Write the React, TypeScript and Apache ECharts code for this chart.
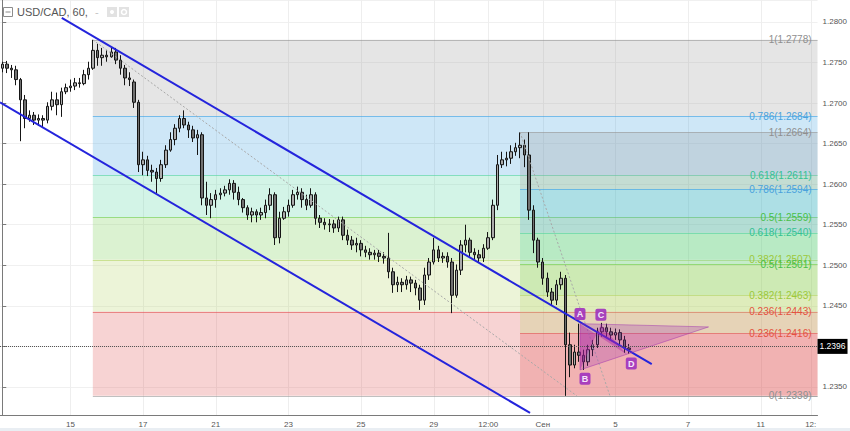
import React, { useEffect, useRef } from 'react';
import * as echarts from 'echarts';

// ---------- axes ----------
const SLOTS = 180; // 3-hour slots across the plot
const Y_MIN = 1.23154;
const Y_MAX = 1.28271;
const tickSlots = [15, 31, 47, 63, 79, 95, 107, 119, 135, 151, 167, 178];
const tickLabels = ['15', '17', '21', '23', '25', '29', '12:00', 'Сен', '5', '7', '11', '12:'];

// ---------- candles: [open, close, low, high] ----------
const ohlc = [
  [1.2743, 1.2748, 1.2738, 1.2751], [1.2748, 1.2743, 1.2737, 1.2752], [1.2743, 1.2741, 1.2731, 1.2747],
  [1.2741, 1.2729, 1.2722, 1.2746], [1.2729, 1.2704, 1.2653, 1.2731], [1.2704, 1.2681, 1.2669, 1.2710],
  [1.2681, 1.2685, 1.2677, 1.2691], [1.2685, 1.2679, 1.2673, 1.2689], [1.2679, 1.2681, 1.2672, 1.2686],
  [1.2681, 1.2679, 1.2670, 1.2685], [1.2679, 1.2696, 1.2675, 1.2701], [1.2696, 1.2704, 1.2691, 1.2714],
  [1.2704, 1.2698, 1.2685, 1.2713], [1.2698, 1.2714, 1.2683, 1.2719], [1.2714, 1.2719, 1.2711, 1.2724],
  [1.2719, 1.2721, 1.2714, 1.2729], [1.2721, 1.2725, 1.2716, 1.2731], [1.2725, 1.2724, 1.2719, 1.2731],
  [1.2724, 1.2735, 1.2722, 1.2741], [1.2735, 1.2743, 1.2729, 1.2751], [1.2743, 1.2765, 1.2741, 1.2778],
  [1.2765, 1.2756, 1.2746, 1.2773], [1.2756, 1.2759, 1.2746, 1.2768], [1.2759, 1.2757, 1.2751, 1.2765],
  [1.2757, 1.2763, 1.2756, 1.2769], [1.2763, 1.2753, 1.2748, 1.2768], [1.2753, 1.2743, 1.2735, 1.2759],
  [1.2743, 1.2731, 1.2722, 1.2747], [1.2731, 1.2729, 1.2721, 1.2738], [1.2726, 1.2701, 1.2694, 1.2729],
  [1.2701, 1.2624, 1.2615, 1.2704], [1.2624, 1.2630, 1.2611, 1.2640], [1.2630, 1.2617, 1.2610, 1.2635],
  [1.2617, 1.2615, 1.2603, 1.2624], [1.2615, 1.2607, 1.2589, 1.2620], [1.2607, 1.2624, 1.2603, 1.2630],
  [1.2624, 1.2642, 1.2620, 1.2648], [1.2642, 1.2655, 1.2640, 1.2664], [1.2655, 1.2669, 1.2648, 1.2674],
  [1.2669, 1.2681, 1.2664, 1.2685], [1.2681, 1.2673, 1.2669, 1.2691], [1.2673, 1.2667, 1.2657, 1.2677],
  [1.2667, 1.2657, 1.2652, 1.2672], [1.2657, 1.2661, 1.2636, 1.2667], [1.2661, 1.2583, 1.2574, 1.2664],
  [1.2583, 1.2574, 1.2562, 1.2603], [1.2574, 1.2581, 1.2558, 1.2589], [1.2581, 1.2587, 1.2571, 1.2593],
  [1.2587, 1.2589, 1.2581, 1.2595], [1.2589, 1.2593, 1.2585, 1.2598], [1.2593, 1.2601, 1.2587, 1.2606],
  [1.2601, 1.2590, 1.2581, 1.2605], [1.2590, 1.2581, 1.2574, 1.2597], [1.2581, 1.2571, 1.2565, 1.2583],
  [1.2571, 1.2562, 1.2556, 1.2574], [1.2562, 1.2566, 1.2553, 1.2571], [1.2566, 1.2562, 1.2553, 1.2569],
  [1.2562, 1.2565, 1.2556, 1.2571], [1.2565, 1.2574, 1.2558, 1.2581], [1.2574, 1.2587, 1.2568, 1.2595],
  [1.2587, 1.2534, 1.2525, 1.2590], [1.2534, 1.2558, 1.2527, 1.2566], [1.2558, 1.2566, 1.2556, 1.2572],
  [1.2566, 1.2574, 1.2560, 1.2581], [1.2574, 1.2587, 1.2571, 1.2593], [1.2587, 1.2590, 1.2581, 1.2597],
  [1.2590, 1.2581, 1.2571, 1.2595], [1.2581, 1.2574, 1.2568, 1.2587], [1.2574, 1.2587, 1.2571, 1.2595],
  [1.2587, 1.2558, 1.2550, 1.2590], [1.2558, 1.2553, 1.2546, 1.2562], [1.2553, 1.2550, 1.2544, 1.2558],
  [1.2550, 1.2551, 1.2541, 1.2557], [1.2551, 1.2546, 1.2540, 1.2556], [1.2546, 1.2556, 1.2541, 1.2560],
  [1.2556, 1.2537, 1.2531, 1.2560], [1.2537, 1.2531, 1.2525, 1.2544], [1.2531, 1.2525, 1.2519, 1.2536],
  [1.2525, 1.2527, 1.2516, 1.2534], [1.2527, 1.2519, 1.2511, 1.2531], [1.2519, 1.2516, 1.2510, 1.2524],
  [1.2516, 1.2513, 1.2507, 1.2521], [1.2513, 1.2515, 1.2507, 1.2519], [1.2515, 1.2511, 1.2504, 1.2519],
  [1.2511, 1.2509, 1.2502, 1.2516], [1.2509, 1.2492, 1.2484, 1.2540], [1.2492, 1.2476, 1.2466, 1.2497],
  [1.2476, 1.2479, 1.2467, 1.2486], [1.2479, 1.2476, 1.2467, 1.2484], [1.2476, 1.2482, 1.2470, 1.2487],
  [1.2482, 1.2478, 1.2467, 1.2486], [1.2478, 1.2472, 1.2463, 1.2482], [1.2472, 1.2457, 1.2445, 1.2476],
  [1.2457, 1.2488, 1.2451, 1.2497], [1.2488, 1.2504, 1.2482, 1.2509], [1.2504, 1.2519, 1.2501, 1.2534],
  [1.2519, 1.2509, 1.2504, 1.2524], [1.2509, 1.2511, 1.2503, 1.2516], [1.2511, 1.2504, 1.2497, 1.2516],
  [1.2504, 1.2463, 1.2441, 1.2509], [1.2463, 1.2494, 1.2460, 1.2501], [1.2494, 1.2525, 1.2488, 1.2531],
  [1.2525, 1.2531, 1.2516, 1.2550], [1.2531, 1.2516, 1.2509, 1.2534], [1.2516, 1.2513, 1.2507, 1.2521],
  [1.2513, 1.2509, 1.2503, 1.2519], [1.2509, 1.2521, 1.2504, 1.2526], [1.2521, 1.2534, 1.2519, 1.2541],
  [1.2534, 1.2574, 1.2531, 1.2581], [1.2574, 1.2624, 1.2568, 1.2636], [1.2624, 1.2630, 1.2620, 1.2640],
  [1.2630, 1.2632, 1.2622, 1.2640], [1.2632, 1.2640, 1.2625, 1.2648], [1.2640, 1.2645, 1.2635, 1.2651],
  [1.2645, 1.2648, 1.2632, 1.2664], [1.2648, 1.2636, 1.2621, 1.2655], [1.2636, 1.2568, 1.2556, 1.2664],
  [1.2568, 1.2531, 1.2515, 1.2574], [1.2531, 1.2504, 1.2497, 1.2534], [1.2504, 1.2484, 1.2476, 1.2509],
  [1.2484, 1.2467, 1.2461, 1.2491], [1.2467, 1.2457, 1.2450, 1.2472], [1.2457, 1.2476, 1.2451, 1.2482],
  [1.2476, 1.2484, 1.2470, 1.2492], [1.2484, 1.2402, 1.2339, 1.2488], [1.2402, 1.2377, 1.2362, 1.2417],
  [1.2377, 1.2393, 1.2373, 1.2402], [1.2393, 1.2389, 1.2381, 1.2428], [1.2389, 1.2381, 1.2371, 1.2396],
  [1.2381, 1.2396, 1.2376, 1.2402], [1.2396, 1.2402, 1.2388, 1.2408], [1.2402, 1.2418, 1.2398, 1.2423],
  [1.2418, 1.2423, 1.2412, 1.2429], [1.2423, 1.2418, 1.2411, 1.2428], [1.2418, 1.2414, 1.2408, 1.2423],
  [1.2414, 1.2417, 1.2408, 1.2422], [1.2417, 1.2408, 1.2402, 1.2421], [1.2408, 1.2398, 1.2392, 1.2413],
  [1.2398, 1.2396, 1.2391, 1.2403],
];
const lastPrice = 1.2396;

// ---------- drawings (slot index, price) ----------
const fibRatios = ['1', '0.786', '0.618', '0.5', '0.382', '0.236', '0'];
const fib1Prices = [1.2778, 1.2684, 1.2611, 1.2559, 1.2507, 1.2443, 1.2339];
const fib2Prices = [1.2664, 1.2594, 1.254, 1.2501, 1.2463, 1.2416, 1.2339];
const fib1Start = 19.94;
const fib2Start = 114.0;
const fib1Trend = [[19.94, 1.2778], [126.5, 1.2339]];
const fib2Trend = [[114.0, 1.2664], [133.8, 1.2339]];
const channelUpper = [[13.1, 1.2805], [143.0, 1.2378]];
const channelLower = [[-0.5, 1.2701], [116.2, 1.2318]];
const triA = [127.2, 1.2428];
const triB = [127.2, 1.2371];
const triC = [131.8, 1.2427];
const triD = [137.5, 1.239];
const triApex = [155.5, 1.2424];
const pointNames = ['A', 'B', 'C', 'D'];
const pointTags = [[127.2, 1.244], [128.3, 1.236], [131.8, 1.2439], [138.5, 1.2379]];

const LEVEL_RGB = [
  [150, 150, 150], [60, 160, 225], [80, 210, 160], [110, 205, 70], [180, 212, 100], [225, 80, 80], [150, 150, 150],
];
const LEVEL_TEXT = ['#8f8f8f', '#4aa2dc', '#33c193', '#48bf48', '#9cc83a', '#e4523f', '#8f8f8f'];
const FONT = "'Liberation Sans', Arial, sans-serif";
const rgba = (c: number[], a: number) => `rgba(${c[0]},${c[1]},${c[2]},${a})`;

const categories = Array.from({ length: SLOTS }, (_, i) => 's' + i);
const labelAt = new Map<number, string>(tickSlots.map((s, i) => [s, tickLabels[i]]));

function bgRender(_params: any, api: any) {
  const children: any[] = [];
  const top = api.coord([0, Y_MAX])[1];
  const bottom = api.coord([0, Y_MIN])[1];
  tickSlots.forEach((s) => {
    const x = Math.round(api.coord([s, Y_MIN])[0]) + 0.5;
    children.push({ type: 'line', shape: { x1: x, y1: top, x2: x, y2: bottom }, style: { stroke: '#eeeeee', lineWidth: 1 } });
  });
  const fibs: [number, number[]][] = [[fib1Start, fib1Prices], [fib2Start, fib2Prices]];
  fibs.forEach(([start, prices]) => {
    const xl = api.coord([start, prices[0]])[0];
    const xr = api.coord([SLOTS - 0.5, prices[0]])[0];
    for (let k = 0; k < prices.length - 1; k++) {
      const y1 = api.coord([start, prices[k]])[1];
      const y2 = api.coord([start, prices[k + 1]])[1];
      children.push({ type: 'rect', shape: { x: xl, y: y1, width: xr - xl, height: y2 - y1 }, style: { fill: rgba(LEVEL_RGB[k], 0.25) } });
    }
    for (let k = 0; k < prices.length; k++) {
      const y = Math.round(api.coord([start, prices[k]])[1]) + 0.5;
      children.push({ type: 'line', shape: { x1: xl, y1: y, x2: xr, y2: y }, style: { stroke: rgba(LEVEL_RGB[k], 0.6), lineWidth: 1 } });
    }
  });
  return { type: 'group', children };
}

function fgRender(_params: any, api: any) {
  const children: any[] = [];
  const c = (p: number[]) => api.coord(p);
  [fib1Trend, fib2Trend].forEach((t) => {
    const a = c(t[0]); const b = c(t[1]);
    children.push({ type: 'line', shape: { x1: a[0], y1: a[1], x2: b[0], y2: b[1] }, style: { stroke: '#a8a8a8', lineWidth: 1, lineDash: [2, 2] } });
  });
  [channelUpper, channelLower].forEach((t) => {
    const a = c(t[0]); const b = c(t[1]);
    children.push({ type: 'line', shape: { x1: a[0], y1: a[1], x2: b[0], y2: b[1] }, style: { stroke: '#2424dc', lineWidth: 2 } });
  });
  const A = c(triA), B = c(triB), C = c(triC), D = c(triD), P = c(triApex);
  children.push({ type: 'polygon', shape: { points: [A, P, B] }, style: { fill: 'rgba(156,39,176,0.25)', stroke: 'rgba(156,39,176,0.45)', lineWidth: 1 } });
  children.push({ type: 'polygon', shape: { points: [A, B, C, D] }, style: { fill: 'rgba(170,30,165,0.4)' } });
  pointTags.forEach((p, i) => {
    const q = c(p);
    children.push({ type: 'rect', shape: { x: q[0] - 5.5, y: q[1] - 6, width: 11, height: 12, r: 2 }, style: { fill: 'rgba(160,50,190,0.9)' } });
    children.push({ type: 'text', style: { text: pointNames[i], x: q[0], y: q[1] + 0.5, fill: '#f6e8fa', font: `bold 9px ${FONT}`, textAlign: 'center', textVerticalAlign: 'middle', align: 'center', verticalAlign: 'middle' } });
  });
  const labelSets: [number[], boolean][] = [[fib1Prices, true], [fib2Prices, false]];
  labelSets.forEach(([prices, withZero]) => {
    const xr = c([SLOTS - 0.5, prices[0]])[0] - 6;
    prices.forEach((pr, k) => {
      if (!withZero && k === prices.length - 1) return;
      const y = c([0, pr])[1];
      children.push({ type: 'text', style: { text: `${fibRatios[k]}(${pr.toFixed(4)})`, x: xr, y: y, fill: LEVEL_TEXT[k], font: `10px ${FONT}`, textAlign: 'right', textVerticalAlign: 'middle', align: 'right', verticalAlign: 'middle' } });
    });
  });
  return { type: 'group', children };
}

export default function App() {
  const ref = useRef<HTMLDivElement>(null);
  useEffect(() => {
    document.body.style.margin = '0';
    const chart = echarts.init(ref.current!, null, { renderer: 'svg' });
    chart.setOption({
      animation: false,
      backgroundColor: '#ffffff',
      textStyle: { fontFamily: FONT },
      grid: { left: 0, right: 31, top: 0, bottom: 16 },
      xAxis: [
        {
          type: 'category', data: categories, boundaryGap: true,
          axisLine: { show: true, lineStyle: { color: '#7a7a7a' } },
          axisTick: { show: false },
          axisLabel: {
            interval: (i: number) => labelAt.has(i),
            formatter: (_v: string, i: number) => labelAt.get(i) ?? '',
            fontSize: 8, color: '#555', margin: 5, fontFamily: FONT,
          },
          splitLine: { show: false },
        },
        { type: 'value', min: -0.5, max: SLOTS - 0.5, show: false },
      ],
      yAxis: [{
        type: 'value', position: 'right', min: Y_MIN, max: Y_MAX,
        minInterval: 0.005, maxInterval: 0.005, splitNumber: 10,
        axisLine: { show: true, lineStyle: { color: '#7a7a7a' } },
        axisTick: { show: true, length: 4, lineStyle: { color: '#7a7a7a' } },
        axisLabel: {
          showMinLabel: false, showMaxLabel: false, fontSize: 8, color: '#555', margin: 5, fontFamily: FONT,
          formatter: (v: number) => (Math.abs(v - 1.24) < 1e-6 ? '' : v.toFixed(4)),
        },
        splitLine: { show: true, lineStyle: { color: '#f0f0f0' } },
      }],
      graphic: [
        { type: 'rect', shape: { x: 3.5, y: 7.5, width: 9, height: 9 }, style: { fill: 'none', stroke: '#8c8c8c', lineWidth: 1 } },
        { type: 'line', shape: { x1: 5.5, y1: 12, x2: 10.5, y2: 12 }, style: { stroke: '#8c8c8c', lineWidth: 1 } },
        { type: 'text', x: 17, y: 12, style: { text: 'USD/CAD, 60,', fill: '#555', font: `11px ${FONT}`, textVerticalAlign: 'middle', verticalAlign: 'middle' } },
        { type: 'text', x: 95, y: 12, style: { text: '-', fill: '#c4c4c4', font: `11px ${FONT}`, textVerticalAlign: 'middle', verticalAlign: 'middle' } },
        { type: 'rect', shape: { x: 107, y: 7, width: 10, height: 10 }, style: { fill: '#e2e2e2' } },
        { type: 'rect', shape: { x: 119, y: 7, width: 10, height: 10 }, style: { fill: '#e2e2e2' } },
        { type: 'circle', shape: { cx: 112, cy: 12, r: 2 }, style: { fill: '#ffffff' } },
        { type: 'circle', shape: { cx: 124, cy: 12, r: 2.5 }, style: { fill: 'none', stroke: '#ffffff', lineWidth: 1.5 } },
        { type: 'rect', shape: { x: 0, y: 428, width: 850, height: 3 }, style: { fill: '#e9eef3' } },
      ],
      series: [
        {
          type: 'custom', name: 'fibBands', coordinateSystem: 'cartesian2d', xAxisIndex: 1, yAxisIndex: 0,
          z: 1, silent: true, data: [[0, 1.25]], encode: { x: 0, y: 1 }, renderItem: bgRender,
        },
        {
          type: 'candlestick', name: 'USD/CAD', xAxisIndex: 0, yAxisIndex: 0, z: 2, barWidth: 3,
          data: ohlc,
          itemStyle: { color: '#ababab', color0: '#707070', borderColor: '#151515', borderColor0: '#151515', borderWidth: 1 },
          markLine: {
            symbol: 'none', silent: true, animation: false,
            data: [{ yAxis: lastPrice }],
            lineStyle: { color: '#555', type: 'dotted', width: 1 },
            label: {
              show: true, position: 'end', formatter: lastPrice.toFixed(4), backgroundColor: '#000', color: '#fff',
              fontSize: 8.5, padding: [3, 2, 3, 2], distance: 0, fontFamily: FONT,
            },
          },
        },
        {
          type: 'custom', name: 'drawings', coordinateSystem: 'cartesian2d', xAxisIndex: 1, yAxisIndex: 0,
          z: 3, silent: true, data: [[0, 1.25]], encode: { x: 0, y: 1 }, renderItem: fgRender,
        },
      ],
    });
    return () => chart.dispose();
  }, []);
  return <div ref={ref} style={{ width: 850, height: 431 }} />;
}
